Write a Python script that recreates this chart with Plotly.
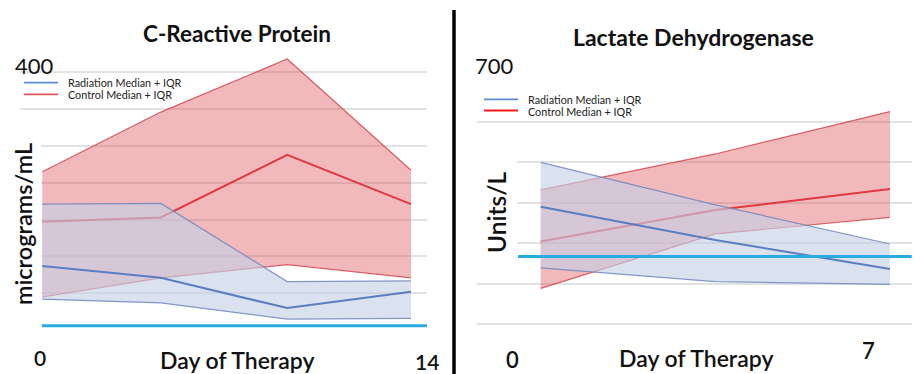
import plotly.graph_objects as go

# ---------------- data ----------------
crp_days = [0, 4.5, 9.3, 14]
crp_ctrl_q3 = [265, 346, 418, 267]
crp_ctrl_med = [197, 203, 288, 221]
crp_ctrl_q1 = [95, 121, 139, 121]
crp_rad_q3 = [221, 222, 116, 117]
crp_rad_med = [137, 121, 80, 102]
crp_rad_q1 = [92, 87, 65, 66]
crp_ref = 56

ldh_days = [0, 3.5, 7]
ldh_ctrl_q3 = [432, 521, 626]
ldh_ctrl_med = [304, 382, 434]
ldh_ctrl_q1 = [188, 323, 364]
ldh_rad_q3 = [500, 395, 298]
ldh_rad_med = [390, 308, 236]
ldh_rad_q1 = [239, 205, 198]
ldh_ref = 267

crp_gridvals = [100, 150, 200, 250, 300, 350, 400]
ldh_gridvals = [0, 100, 200, 300, 400, 500, 600, 700]

legend_names = ["Radiation Median + IQR", "Control Median + IQR"]

# ---------------- styling ----------------
W, H = 920, 374
RED_FILL = "rgba(222,70,78,0.38)"
BLUE_FILL = "rgba(196,208,230,0.62)"
RED_LINE = "#e0393f"
RED_EDGE = "rgba(214,70,76,0.85)"
BLUE_LINE = "#5b7ec2"
BLUE_EDGE = "rgba(110,135,190,0.85)"
CYAN = "#29abe2"
FONT = "Lato"

def px(x):
    return x / W

def py(y):
    return 1 - y / H

fig = go.Figure()

def add_group(xa, ya, days, q3, med, q1, fill, edge, line, edge_w=1.2):
    poly_x = list(days) + list(days)[::-1]
    poly_y = list(q3) + list(q1)[::-1]
    fig.add_trace(go.Scatter(x=poly_x, y=poly_y, mode="lines", fill="toself",
                             fillcolor=fill, line=dict(width=0), hoverinfo="skip",
                             showlegend=False, xaxis=xa, yaxis=ya))
    for arr in (q3, q1):
        fig.add_trace(go.Scatter(x=days, y=arr, mode="lines",
                                 line=dict(color=edge, width=edge_w),
                                 showlegend=False, xaxis=xa, yaxis=ya))
    fig.add_trace(go.Scatter(x=days, y=med, mode="lines",
                             line=dict(color=line, width=2),
                             showlegend=False, xaxis=xa, yaxis=ya))

# left panel
add_group("x", "y", crp_days, crp_ctrl_q3, crp_ctrl_med, crp_ctrl_q1, RED_FILL, RED_EDGE, RED_LINE)
add_group("x", "y", crp_days, crp_rad_q3, crp_rad_med, crp_rad_q1, BLUE_FILL, BLUE_EDGE, BLUE_LINE)
# right panel
add_group("x2", "y2", ldh_days, ldh_ctrl_q3, ldh_ctrl_med, ldh_ctrl_q1, RED_FILL, RED_EDGE, RED_LINE)
add_group("x2", "y2", ldh_days, ldh_rad_q3, ldh_rad_med, ldh_rad_q1, BLUE_FILL, BLUE_EDGE, BLUE_LINE)

grid = dict(showgrid=True, gridcolor="#e2e2e2", gridwidth=1.5, zeroline=False,
            showticklabels=False, ticks="", showline=False)
nogrid = dict(showgrid=False, zeroline=False, showticklabels=False, ticks="", showline=False)

# left: 0 day at 42.3px, 14 at 411px within domain 20..427px
l_dom = [px(20), px(427)]
l_ppd = (411 - 42.3) / 14
l_rng = [0 - (42.3 - 20) / l_ppd, 14 + (427 - 411) / l_ppd]
# left y: 0 at 367px, 400 at 72.3px; extend to 430 so the peak is not clipped
l_ppu = (367 - 72.3) / 400
l_top = 430
# right: 0 day at 540.7px, 7 at 890px within domain 476.7..911.7
r_dom = [px(476.7), px(911.7)]
r_ppd = (890 - 540.7) / 7
r_rng = [0 - (540.7 - 476.7) / r_ppd, 7 + (911.7 - 890) / r_ppd]

fig.update_layout(
    width=W, height=H, margin=dict(l=0, r=0, t=0, b=0),
    paper_bgcolor="white", plot_bgcolor="white", showlegend=False,
    xaxis=dict(domain=l_dom, range=l_rng, **nogrid),
    yaxis=dict(domain=[py(367), py(367 - l_top * l_ppu)], range=[0, l_top],
               tickvals=crp_gridvals, **grid),
    xaxis2=dict(domain=r_dom, range=r_rng, anchor="y2", **nogrid),
    yaxis2=dict(domain=[py(364.3), py(81.7)], range=[0, 700], tickvals=ldh_gridvals,
                anchor="x2", **grid),
)

shapes = []
# white masks where the gridlines stop near the axis titles
shapes.append(dict(type="rect", xref="paper", yref="paper", x0=px(0), x1=px(41),
                   y0=py(330), y1=py(125), fillcolor="white", line=dict(width=0), layer="above"))
shapes.append(dict(type="rect", xref="paper", yref="paper", x0=px(470), x1=px(517),
                   y0=py(262), y1=py(150), fillcolor="white", line=dict(width=0), layer="above"))
shapes.append(dict(type="rect", xref="paper", yref="paper", x0=px(578), x1=px(812),
                   y0=py(372), y1=py(345), fillcolor="white", line=dict(width=0), layer="above"))
# reference lines
shapes.append(dict(type="line", xref="x domain", yref="y", x0=(42 - 20) / 407, x1=1,
                   y0=crp_ref, y1=crp_ref, line=dict(color=CYAN, width=3), layer="above"))
shapes.append(dict(type="line", xref="x2 domain", yref="y2", x0=(518 - 476.7) / 435, x1=1,
                   y0=ldh_ref, y1=ldh_ref, line=dict(color=CYAN, width=3), layer="above"))
# divider
shapes.append(dict(type="line", xref="paper", yref="paper", x0=px(454), x1=px(454),
                   y0=py(10), y1=py(374), line=dict(color="black", width=3.5)))
# legend samples
for (lx0, lx1, ly_b, ly_r, red) in [(24, 58, 82.7, 94.3, "#e8555a"), (484, 518, 99.3, 110.5, "#ff1a1a")]:
    shapes.append(dict(type="line", xref="paper", yref="paper", x0=px(lx0), x1=px(lx1),
                       y0=py(ly_b), y1=py(ly_b), line=dict(color="#5b8fd0", width=1.8)))
    shapes.append(dict(type="line", xref="paper", yref="paper", x0=px(lx0), x1=px(lx1),
                       y0=py(ly_r), y1=py(ly_r), line=dict(color=red, width=1.8)))
fig.update_layout(shapes=shapes)

ann = []
def text(t, x, y, size, weight="normal", angle=0, xanchor="center", color="#111"):
    ann.append(dict(text=t, x=px(x), y=py(y), xref="paper", yref="paper", showarrow=False,
                    xanchor=xanchor, yanchor="middle", textangle=angle,
                    font=dict(family=FONT, size=size, color=color, weight=weight)))

# left panel texts
text("C-Reactive Protein", 236.7, 33.3, 22.5, "bold")
text("400", 34, 65, 22)
text("micrograms/mL", 23, 224, 23.5, 600, angle=-90)
text("0", 40, 357.5, 21, 600)
text("Day of Therapy", 236.7, 360, 23, 600)
text("14", 427, 361.5, 21, 600)
text(legend_names[0], 66, 82.7, 10.8, xanchor="left", color="#222")
text(legend_names[1], 66, 94.3, 10.8, xanchor="left", color="#222")
# right panel texts
text("Lactate Dehydrogenase", 693, 36.7, 23, "bold")
text("700", 495, 65, 22)
text("Units/L", 497, 213, 24.5, 600, angle=-90)
text("0", 512.5, 359, 22, 600)
text("Day of Therapy", 695.5, 358, 23, 600)
text("7", 868, 350, 22, 600)
text(legend_names[0], 526, 99.3, 10.8, xanchor="left", color="#222")
text(legend_names[1], 526, 111, 10.8, xanchor="left", color="#222")
fig.update_layout(annotations=ann)

fig.write_html("out.html")
